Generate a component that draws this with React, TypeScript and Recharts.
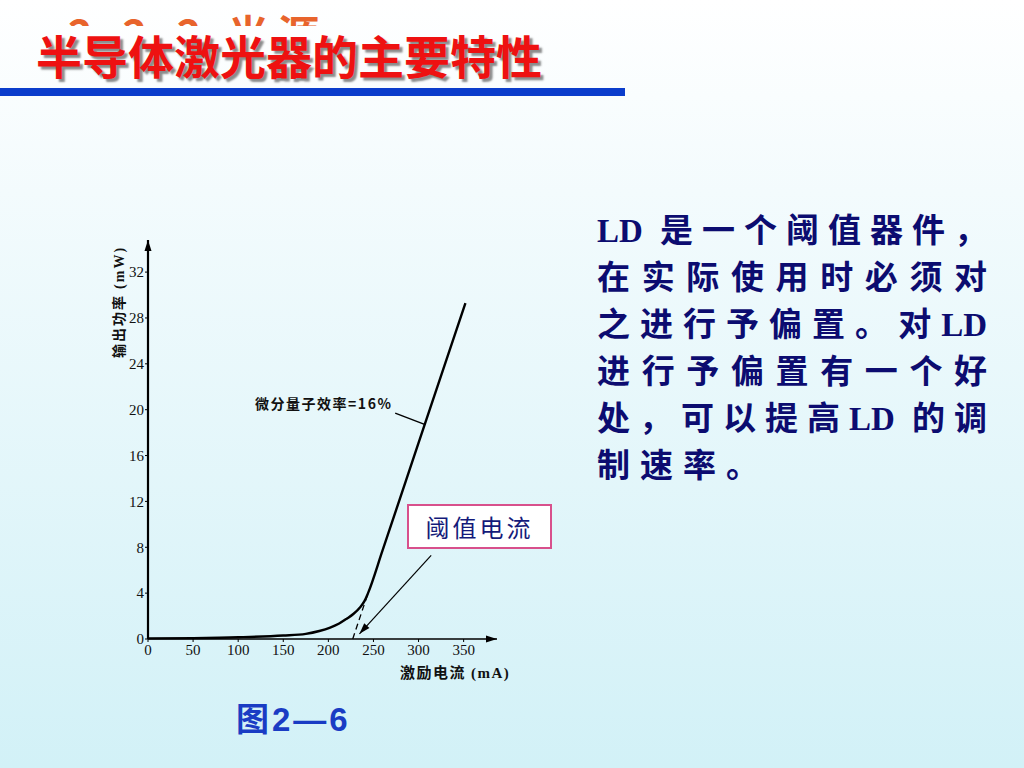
import React from "react";
import { LineChart, Line, XAxis, YAxis, ReferenceLine, ReferenceDot } from "recharts";

// 输出功率-激励电流 (P-I) 曲线
const currentMA = [0, 50, 100, 150, 175, 190, 202, 212, 220, 228, 235, 240, 244, 260, 300, 352];
const powerMW = [0.05, 0.08, 0.15, 0.3, 0.45, 0.7, 1.0, 1.35, 1.75, 2.2, 2.75, 3.3, 4.0, 7.7, 17.1, 29.3];

// 线性外推到阈值电流的虚线
const fitCurrent = [227, 244];
const fitPower = [0, 4.0];

const xTicks = [0, 50, 100, 150, 200, 250, 300, 350];
const yTicks = [0, 4, 8, 12, 16, 20, 24, 28, 32];

const textLines = [
  "LD 是一个阈值器件，",
  "在实际使用时必须对",
  "之进行予偏置。对LD",
  "进行予偏置有一个好",
  "处，可以提高LD 的调",
  "制速率。",
];

const curve = currentMA.map((x, i) => ({ x, y: powerMW[i] }));
const fit = fitCurrent.map((x, i) => ({ x, y: fitPower[i] }));

const X_MAX = 387;
const Y_MAX = 34.8;

const arrowHead = (angle: number, len = 11, half = 3.5) => (props: any) => (
  <polygon
    points={`0,0 ${-len},${-half} ${-len},${half}`}
    transform={`translate(${props.cx},${props.cy}) rotate(${angle})`}
    fill="#000"
  />
);

const slopeLabel = (props: any) => (
  <text
    x={props.cx}
    y={props.cy}
    textAnchor="end"
    dominantBaseline="middle"
    fontSize={14}
    fontWeight={600}
    letterSpacing={1.5}
    fontFamily="'Noto Sans CJK SC', sans-serif"
    fill="#111"
  >
    微分量子效率=16%
  </text>
);

export default function App() {
  return (
    <div
      style={{
        position: "absolute",
        left: 0,
        top: 0,
        width: 1024,
        height: 768,
        overflow: "hidden",
        background: "linear-gradient(#ffffff 0%, #f3fbfd 25%, #d2f1f7 100%)",
        fontFamily: "'Noto Sans CJK SC', sans-serif",
      }}
    >
      {/* 被标题遮住的小节标题 */}
      <div style={{ position: "absolute", left: 0, top: 0, width: 400, height: 26, overflow: "hidden" }}>
        <div
          style={{
            position: "absolute",
            left: 68,
            top: 10,
            height: 14,
            fontSize: 42,
            lineHeight: "14px",
            fontWeight: 700,
            color: "#e8642c",
            letterSpacing: 8,
            whiteSpace: "nowrap",
          }}
        >
          <span style={{ position: "relative", top: 16 }}>2.2.2 光源</span>
        </div>
      </div>

      <div
        style={{
          position: "absolute",
          left: 36,
          top: 27,
          fontSize: 46,
          lineHeight: "54px",
          fontWeight: 700,
          color: "#ee1111",
          textShadow: "3px 3px 2px rgba(0,0,0,0.45)",
          whiteSpace: "nowrap",
        }}
      >
        半导体激光器的主要特性
      </div>
      <div style={{ position: "absolute", left: 0, top: 88, width: 625, height: 8, background: "#0b3dcc" }} />

      <LineChart
        width={1024}
        height={768}
        margin={{ top: 240, right: 1024 - 497, bottom: 99, left: 108 }}
        style={{ position: "absolute", left: 0, top: 0 }}
      >
        <XAxis
          type="number"
          dataKey="x"
          domain={[0, X_MAX]}
          ticks={xTicks}
          height={30}
          axisLine={{ stroke: "#000", strokeWidth: 1.5 }}
          tickLine={{ stroke: "#000" }}
          tickSize={3}
          tickMargin={2}
          tick={{ fill: "#111", fontSize: 15, fontFamily: "'Liberation Serif', serif" }}
        />
        <YAxis
          type="number"
          dataKey="y"
          domain={[0, Y_MAX]}
          ticks={yTicks}
          width={40}
          axisLine={{ stroke: "#000", strokeWidth: 2.2 }}
          tickLine={{ stroke: "#000" }}
          tickSize={3}
          tickMargin={1}
          tick={{ fill: "#111", fontSize: 15, fontFamily: "'Liberation Serif', serif" }}
        />
        <Line
          data={curve}
          dataKey="y"
          type="monotone"
          stroke="#000"
          strokeWidth={2.4}
          dot={false}
          isAnimationActive={false}
        />
        <Line
          data={fit}
          dataKey="y"
          type="linear"
          stroke="#000"
          strokeWidth={1.3}
          strokeDasharray="6 4"
          dot={false}
          isAnimationActive={false}
        />
        <ReferenceLine
          segment={[{ x: 274.1, y: 19.7 }, { x: 307.4, y: 18.7 }]}
          stroke="#000"
          strokeWidth={1.5}
        />
        <ReferenceLine
          segment={[{ x: 314, y: 7.3 }, { x: 234.5, y: 0.45 }]}
          stroke="#000"
          strokeWidth={1.2}
        />
        <ReferenceDot x={234.5} y={0.45} r={0} ifOverflow="visible" shape={arrowHead(132)} />
        <ReferenceDot x={X_MAX} y={0} r={0} ifOverflow="visible" shape={arrowHead(0)} />
        <ReferenceDot x={0} y={Y_MAX} r={0} ifOverflow="visible" shape={arrowHead(-90)} />
        <ReferenceDot x={271} y={20.4} r={0} ifOverflow="visible" shape={slopeLabel} />
      </LineChart>

      <div
        style={{
          position: "absolute",
          left: 118,
          top: 302,
          transform: "translate(-50%, -50%) rotate(-90deg)",
          fontSize: 14,
          fontWeight: 600,
          letterSpacing: 2,
          color: "#111",
          whiteSpace: "nowrap",
        }}
      >
        输出功率 <span style={{ fontFamily: "'Liberation Serif', serif" }}>(mW)</span>
      </div>
      <div
        style={{
          position: "absolute",
          left: 400,
          top: 661,
          fontSize: 15,
          fontWeight: 600,
          letterSpacing: 1.5,
          color: "#111",
          whiteSpace: "nowrap",
        }}
      >
        激励电流 <span style={{ fontFamily: "'Liberation Serif', serif" }}>(mA)</span>
      </div>

      <div
        style={{
          position: "absolute",
          left: 407,
          top: 504,
          width: 141,
          height: 41,
          border: "2px solid #d8508c",
          background: "#fff",
          color: "#141a7a",
          fontSize: 24,
          lineHeight: "41px",
          textAlign: "center",
          letterSpacing: 3,
        }}
      >
        阈值电流
      </div>

      <div
        style={{
          position: "absolute",
          left: 597,
          top: 208,
          width: 390,
          color: "#0c0c70",
          fontFamily: "'Liberation Serif', 'Noto Sans CJK SC', serif",
          fontWeight: 700,
          fontSize: 33,
          lineHeight: "47px",
        }}
      >
        {textLines.map((t, i) => {
          const last = i === textLines.length - 1;
          return (
            <div
              key={i}
              style={{
                whiteSpace: "nowrap",
                textAlign: "left",
                textAlignLast: last ? "left" : "justify",
                textJustify: "inter-character",
                letterSpacing: last ? 10 : 0,
              }}
            >
              {t}
            </div>
          );
        })}
      </div>

      <div
        style={{
          position: "absolute",
          left: 236,
          top: 698,
          fontFamily: "'Liberation Sans', 'Noto Sans CJK SC', sans-serif",
          fontWeight: 700,
          fontSize: 33,
          lineHeight: "44px",
          color: "#1a3cc4",
          whiteSpace: "nowrap",
          letterSpacing: 3,
        }}
      >
        图2—6
      </div>
    </div>
  );
}
